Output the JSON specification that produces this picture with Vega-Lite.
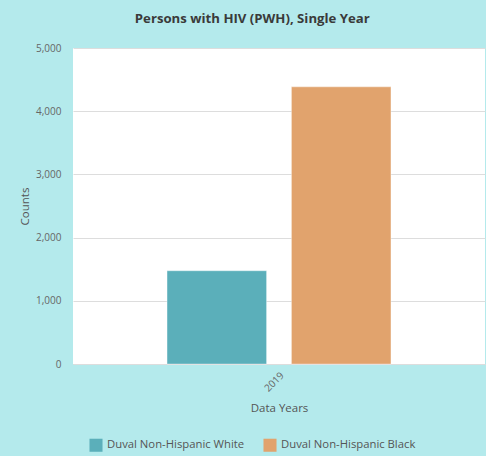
{
  "$schema": "https://vega.github.io/schema/vega-lite/v6.json",
  "width": 412,
  "height": 316,
  "autosize": {"type": "none"},
  "padding": {"left": 73, "top": 48, "right": 1, "bottom": 92},
  "background": "#B4EAEC",
  "title": {
    "text": "Persons with HIV (PWH), Single Year",
    "font": "Open Sans",
    "fontSize": 13.2,
    "fontWeight": "bold",
    "color": "#3A3A3A",
    "anchor": "middle",
    "frame": "bounds",
    "offset": 17
  },
  "data": {
    "values": [
      {"year": "2019", "group": "Duval Non-Hispanic White", "count": 1475},
      {"year": "2019", "group": "Duval Non-Hispanic Black", "count": 4385}
    ]
  },
  "mark": {"type": "bar", "stroke": "#FFFFFF", "strokeOpacity": 0.35, "strokeWidth": 1},
  "encoding": {
    "x": {
      "field": "year",
      "type": "nominal",
      "title": "Data Years",
      "scale": {"paddingInner": 0, "paddingOuter": 0.42},
      "axis": {
        "labelAngle": -45,
        "labelFont": "Open Sans",
        "labelFontSize": 10,
        "labelColor": "#666666",
        "labelPadding": 6,
        "ticks": false,
        "domain": true,
        "domainColor": "#DDDDDD",
        "titleFont": "Open Sans",
        "titleFontSize": 11.5,
        "titleFontWeight": "normal",
        "titleColor": "#555555",
        "titlePadding": 9
      }
    },
    "xOffset": {
      "field": "group",
      "type": "nominal",
      "sort": ["Duval Non-Hispanic White", "Duval Non-Hispanic Black"],
      "scale": {"paddingInner": 0.2, "paddingOuter": 0}
    },
    "y": {
      "field": "count",
      "type": "quantitative",
      "title": "Counts",
      "scale": {"domain": [0, 5000], "nice": false},
      "axis": {
        "values": [0, 1000, 2000, 3000, 4000, 5000],
        "format": ",d",
        "labelFont": "Open Sans",
        "labelFontSize": 10,
        "labelColor": "#666666",
        "labelPadding": 12,
        "ticks": false,
        "domain": false,
        "gridColor": "#DDDDDD",
        "titleFont": "Open Sans",
        "titleFontSize": 11.5,
        "titleFontWeight": "normal",
        "titleColor": "#555555",
        "titlePadding": 5
      }
    },
    "color": {
      "field": "group",
      "type": "nominal",
      "sort": ["Duval Non-Hispanic White", "Duval Non-Hispanic Black"],
      "scale": {
        "domain": ["Duval Non-Hispanic White", "Duval Non-Hispanic Black"],
        "range": ["#5BAFBA", "#E1A36D"]
      },
      "legend": {
        "title": null,
        "orient": "bottom",
        "direction": "horizontal",
        "symbolType": "square",
        "symbolSize": 170,
        "symbolStrokeWidth": 0,
        "labelFont": "Open Sans",
        "labelFontSize": 11.3,
        "labelColor": "#555555",
        "columnPadding": 18,
        "padding": 16,
        "offset": 8
      }
    }
  },
  "config": {
    "view": {"fill": "#FFFFFF", "stroke": null}
  }
}
